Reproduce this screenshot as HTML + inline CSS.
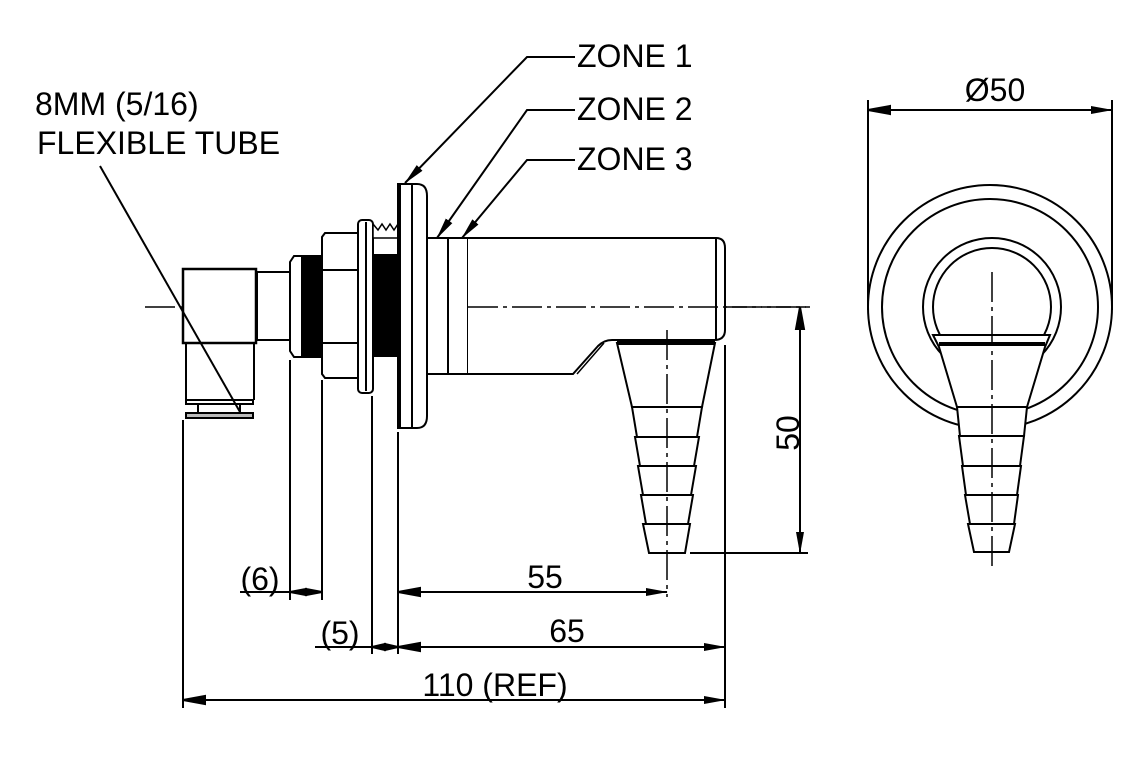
<!DOCTYPE html>
<html><head><meta charset="utf-8"><style>
html,body{margin:0;padding:0;background:#fff;}
svg{display:block;}
text{font-family:"Liberation Sans",sans-serif;font-size:32px;fill:#000;}
</style></head><body>
<svg width="1140" height="760" viewBox="0 0 1140 760" xmlns="http://www.w3.org/2000/svg">
<defs>
<marker id="a" markerWidth="22" markerHeight="8" refX="21" refY="4" orient="auto" markerUnits="userSpaceOnUse"><path d="M0,0 L22,4 L0,8 Z" fill="#000"/></marker>
</defs>
<g stroke="#000" stroke-width="2" fill="none">
<line x1="145" y1="307" x2="810" y2="307" stroke-width="1.5" stroke-dasharray="30,5,4,5"/>
<rect x="183" y="269" width="73" height="74" fill="#fff" stroke-width="2.5"/>
<line x1="186" y1="343" x2="186" y2="400"/><line x1="254" y1="343" x2="254" y2="400"/>
<rect x="186" y="400" width="67" height="4" fill="#fff"/>
<rect x="186" y="413" width="67" height="5" fill="#bbb"/>
<line x1="198" y1="404" x2="198" y2="413"/><line x1="240" y1="404" x2="240" y2="413"/>
<rect x="257" y="272" width="33" height="68" fill="#fff"/>
<path d="M290,262 L294,256 L322,256 L322,357 L294,357 L290,351 Z" fill="#fff"/>
<rect x="302" y="257" width="20" height="99" fill="#000"/>
<path d="M325,233 L358,233 L358,378 L325,378 L322,374 L322,237 Z" fill="#fff"/>
<line x1="322" y1="270" x2="358" y2="270"/><line x1="322" y1="343" x2="358" y2="343"/>
<rect x="358" y="220" width="15" height="173" rx="4" fill="#fff"/>
<line x1="366" y1="222" x2="366" y2="391"/>
<rect x="373" y="255" width="25" height="101" fill="#000"/>
<path d="M373,238 L373,224 L378,230 L382,224 L386,230 L390,224 L394,230 L398,224 L398,238 Z" fill="#fff" stroke-width="1.5"/>
<path d="M398,184 L417,184 Q427,184 427,196 L427,416 Q427,428 417,428 L398,428 Z" fill="#fff"/>
<rect x="398" y="184" width="3" height="244" fill="#000" stroke="none"/>
<line x1="412" y1="184" x2="412" y2="428"/>
<rect x="427" y="238" width="41" height="136" fill="#fff"/>
<line x1="448" y1="238" x2="448" y2="374"/>
<path d="M468,238 L716,238 Q725,238 725,248 L725,330 Q725,340 714,340 L612,340 Q604,340 598,346 L573,374 L468,374" fill="#fff"/>
<line x1="716" y1="238" x2="716" y2="340"/>
<path d="M604,343 L577,374" stroke-width="1.5"/>
<line x1="468" y1="307" x2="810" y2="307" stroke-width="1.5" stroke-dasharray="30,5,4,5"/>
<g fill="#fff">
<path d="M617,343 L715,343 L702,407 L632,407 Z"/>
<path d="M632,407 L702,407 L697,437 L637,437 Z"/>
<path d="M635,437 L699,437 L694,466 L640,466 Z"/>
<path d="M638,466 L696,466 L691,495 L643,495 Z"/>
<path d="M641,495 L693,495 L688,524 L646,524 Z"/>
<path d="M643,524 L690,524 L685,553 L649,553 Z"/>
</g>
<line x1="617" y1="343" x2="715" y2="343" stroke-width="4"/>
<line x1="667" y1="330" x2="667" y2="597" stroke-width="1.5" stroke-dasharray="30,5,4,5"/>
<line x1="183" y1="420" x2="183" y2="708"/>
<line x1="290" y1="360" x2="290" y2="600"/>
<line x1="322" y1="380" x2="322" y2="600"/>
<line x1="372" y1="396" x2="372" y2="654"/>
<line x1="398" y1="432" x2="398" y2="654"/>
<line x1="725" y1="345" x2="725" y2="708"/>
<line x1="690" y1="553" x2="808" y2="553"/>
<line x1="398" y1="592" x2="667" y2="592" marker-end="url(#a)"/>
<path d="M398,592 L420,588 L420,596 Z" fill="#000"/>
<line x1="398" y1="647" x2="725" y2="647" marker-end="url(#a)"/>
<path d="M398,647 L420,643 L420,651 Z" fill="#000"/>
<line x1="183" y1="700" x2="725" y2="700" marker-end="url(#a)"/>
<path d="M183,700 L205,696 L205,704 Z" fill="#000"/>
<line x1="240" y1="592" x2="322" y2="592"/>
<path d="M290,592 L306,589 L306,595 Z M322,592 L306,589 L306,595 Z" fill="#000"/>
<line x1="315" y1="647" x2="398" y2="647"/>
<path d="M372,647 L385,644 L385,650 Z M398,647 L385,644 L385,650 Z" fill="#000"/>
<line x1="800" y1="307" x2="800" y2="553" marker-end="url(#a)"/>
<path d="M800,307 L796,329 L804,329 Z" fill="#000"/>
<polyline points="575,57 527,57 405,183" marker-end="url(#a)"/>
<polyline points="575,110 527,110 437,238" marker-end="url(#a)"/>
<polyline points="575,160 527,160 462,238" marker-end="url(#a)"/>
<line x1="100" y1="166" x2="240" y2="412"/>
<line x1="868" y1="100" x2="868" y2="310"/>
<line x1="1112" y1="100" x2="1112" y2="310"/>
<line x1="868" y1="110" x2="1112" y2="110" marker-end="url(#a)"/>
<path d="M868,110 L890,106 L890,114 Z" fill="#000"/>
<circle cx="990" cy="307" r="122"/>
<circle cx="990" cy="307" r="108"/>
<circle cx="992" cy="307" r="69"/>
<circle cx="992" cy="307" r="59"/>
<g fill="#fff">
<path d="M933,335 L1050,335 L1045,347 L1027,407 L957,407 L939,347 Z"/>
<path d="M957,407 L1027,407 L1024,436 L960,436 Z"/>
<path d="M959,436 L1024,436 L1020,466 L963,466 Z"/>
<path d="M962,466 L1021,466 L1017,495 L966,495 Z"/>
<path d="M965,495 L1018,495 L1014,524 L970,524 Z"/>
<path d="M968,524 L1015,524 L1009,552 L974,552 Z"/>
</g>
<line x1="939" y1="344" x2="1045" y2="344" stroke-width="4"/>
<line x1="992" y1="272" x2="992" y2="570" stroke-width="1.5" stroke-dasharray="30,5,4,5"/>
</g>
<text x="577" y="67">ZONE 1</text>
<text x="577" y="120">ZONE 2</text>
<text x="577" y="170">ZONE 3</text>
<text x="35" y="115">8MM (5/16)</text>
<text x="37" y="154">FLEXIBLE TUBE</text>
<text x="545" y="588" text-anchor="middle">55</text>
<text x="567" y="642" text-anchor="middle">65</text>
<text x="495" y="696" text-anchor="middle">110 (REF)</text>
<text x="260" y="590" text-anchor="middle">(6)</text>
<text x="340" y="644" text-anchor="middle">(5)</text>
<text x="995" y="101" text-anchor="middle">Ø50</text>
<text transform="translate(799,433) rotate(-90)" text-anchor="middle">50</text>
</svg>
</body></html>
